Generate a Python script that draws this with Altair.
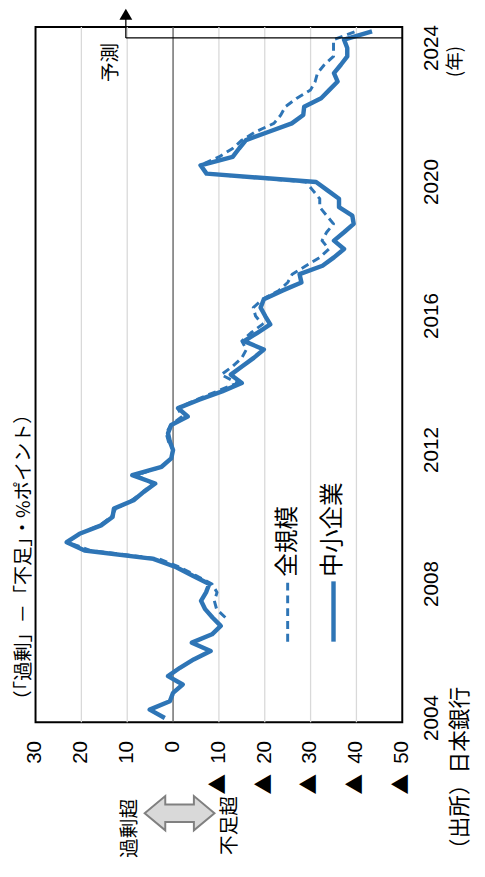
import altair as alt
import pandas as pd

# ---------------- data (quarterly, first point = 2004 Q1) ----------------
start_year = 2004
# 中小企業 (solid)
sme_values = [1.8, 5.1, 0.7, 0.0, -2.1, 1.1, -1.5, -4.5, -8.2, -4.1,
              -8.5, -10.4, -8.6, -7.0, -6.1, -7.2, -7.9, -4.3, -0.7, 4.3,
              19.3, 23.2, 20.4, 15.7, 13.2, 12.9, 8.6, 6.4, 3.9, 8.9,
              2.5, 0.4, 0.0, 0.7, 1.1, 0.4, -3.2, -1.1, -5.7, -10.7,
              -15.0, -12.6, -15.1, -17.6, -19.8, -15.5, -18.4, -21.2, -20.1, -19.1,
              -19.8, -23.7, -28.0, -27.6, -32.6, -35.1, -37.3, -35.1, -37.3, -39.4,
              -39.1, -36.2, -36.2, -33.7, -31.2, -7.3, -6.0, -13.0, -14.4, -15.9,
              -20.9, -25.9, -28.4, -28.6, -32.3, -34.1, -35.9, -35.1, -36.6, -38.0,
              -38.0, -37.3, -43.4]
# 全規模 (dashed), starts 2007 Q1
all_start_index = 12
all_values = [-11.4, -9.5, -9.0, -9.6, -8.5, -5.0, -1.5, 3.0,
              18.0, 23.0, 20.5, 16.0, 13.5, 12.5, 9.0, 6.5, 4.5, 8.0,
              2.5, 0.5, 0.0, 1.0, 1.5, 0.5, -2.0, -1.0, -5.0, -9.5,
              -14.0, -10.5, -13.0, -15.0, -16.0, -15.0, -17.0, -19.5, -18.0, -17.5,
              -19.5, -23.0, -25.0, -26.0, -29.0, -32.0, -34.0, -32.5, -33.5, -35.0,
              -33.5, -32.0, -32.0, -30.5, -29.0, -7.5, -6.0, -10.0, -13.0, -15.0,
              -18.0, -22.0, -23.5, -24.5, -27.0, -30.0, -31.0, -31.5, -33.0, -35.0,
              -35.0, -35.0, -40.0]

series_names = ["全規模", "中小企業"]
year_ticks = [2004, 2008, 2012, 2016, 2020, 2024]
year_labels = ["2004", "2008", "2012", "2016", "2020", "2024"]
value_ticks = [30, 20, 10, 0, -10, -20, -30, -40, -50]
value_labels = ["30", "20", "10", "0", "10", "20", "30", "40", "50"]
neg_ticks = [-10, -20, -30, -40, -50]
grid_values = [20, 10, -10, -20, -30, -40]
zero_value = [0]

title_text = "（「過剰」－「不足」・%ポイント）"
year_unit_text = "(年)"
source_text = "（出所）日本銀行"
forecast_text = "予測"
excess_text = "過剰超"
shortage_text = "不足超"

forecast_t = 2024.3
forecast_v = 10.3

BLUE = "#2E75B6"
W, H = 373, 707

rows = []
for k, v in enumerate(sme_values):
    rows.append({"t": start_year + k / 4, "v": v, "s": series_names[1]})
for k, v in enumerate(all_values):
    rows.append({"t": start_year + (all_start_index + k) / 4, "v": v, "s": series_names[0]})
df = pd.DataFrame(rows)

xs = alt.Scale(domain=[-50, 30], reverse=True, nice=False, zero=False)
ys = alt.Scale(domain=[2003.875, 2024.625], nice=False, zero=False)
X = lambda f: alt.X(f, scale=xs, axis=None)
Y = lambda f: alt.Y(f, scale=ys, axis=None)

# gridlines
grid = alt.Chart(pd.DataFrame({"v": grid_values})).mark_rule(
    color="#d9d9d9", strokeWidth=1.3).encode(x=X("v:Q"))
zero = alt.Chart(pd.DataFrame({"v": zero_value})).mark_rule(
    color="#595959", strokeWidth=1.3).encode(x=X("v:Q"))

# tick labels (value axis below the frame, years to the right)
vlab = alt.Chart(pd.DataFrame({"v": value_ticks, "lab": value_labels})).mark_text(
    angle=270, align="right", baseline="middle", font="Liberation Sans", fontSize=21,
    color="#000", clip=False
).encode(x=X("v:Q"), y=alt.value(H + 19), text="lab:N")
tri = alt.Chart(pd.DataFrame({"v": neg_ticks, "lab": ["▲"] * len(neg_ticks)})).mark_text(
    angle=270, align="center", baseline="middle", font="Noto Sans CJK JP", fontSize=21,
    color="#000", clip=False
).encode(x=X("v:Q"), y=alt.value(H + 63), text="lab:N")
ylab = alt.Chart(pd.DataFrame({"t": year_ticks, "lab": year_labels})).mark_text(
    angle=270, align="center", baseline="top", font="Liberation Sans", fontSize=21,
    color="#000", clip=False
).encode(x=alt.value(W + 19), y=Y("t:Q"), text="lab:N")

dashed = alt.Chart(df[df.s == series_names[0]]).mark_line(
    color=BLUE, strokeWidth=3, strokeDash=[8, 5], strokeJoin="round"
).encode(x=X("v:Q"), y=Y("t:Q"), order="t:Q")
solid = alt.Chart(df[df.s == series_names[1]]).mark_line(
    color=BLUE, strokeWidth=4.5, strokeJoin="round"
).encode(x=X("v:Q"), y=Y("t:Q"), order="t:Q")

# forecast marker
fc = pd.DataFrame({"v": [forecast_v], "v2": [-50], "t": [forecast_t]})
fc_h = alt.Chart(fc).mark_rule(color="#000", strokeWidth=1.3, clip=False).encode(
    x=X("v:Q"), x2="v2:Q", y=Y("t:Q"))
fc_v = alt.Chart(fc).mark_rule(color="#000", strokeWidth=1.3, clip=False).encode(
    x=X("v:Q"), y=Y("t:Q"), y2=alt.value(-10))
fc_arrow = alt.Chart(fc).mark_point(shape="triangle-up", filled=True, color="#000", size=170,
                                     opacity=1, clip=False).encode(x=X("v:Q"), y=alt.value(-13))
fc_text = alt.Chart(pd.DataFrame({"v": [13.5], "t": [2023.57], "lab": [forecast_text]})).mark_text(
    angle=270, align="center", baseline="middle", font="Noto Sans CJK JP", fontSize=20, color="#000"
).encode(x=X("v:Q"), y=Y("t:Q"), text="lab:N")

# legend drawn inside plot
leg = pd.DataFrame({"v": [-25, -35], "t1": [2006.28, 2006.28], "t2": [2008.08, 2008.08],
                    "tt": [2008.22, 2008.22], "s": series_names})
leg_dash = alt.Chart(leg[leg.s == series_names[0]]).mark_rule(
    color=BLUE, strokeWidth=3, strokeDash=[8, 5]).encode(x=X("v:Q"), y=Y("t1:Q"), y2="t2:Q")
leg_solid = alt.Chart(leg[leg.s == series_names[1]]).mark_rule(
    color=BLUE, strokeWidth=4.5).encode(x=X("v:Q"), y=Y("t1:Q"), y2="t2:Q")
leg_text = alt.Chart(leg).mark_text(
    angle=270, align="left", baseline="middle", font="Noto Sans CJK JP", fontSize=24, color="#000"
).encode(x=X("v:Q"), y=Y("tt:Q"), text="s:N")

one = pd.DataFrame({"a": [0]})

def label(txt, px, py, size, align="center"):
    return alt.Chart(one).mark_text(
        angle=270, align=align, baseline="middle", font="Noto Sans CJK JP",
        fontSize=size, color="#000", text=txt
    ).encode(x=alt.value(px), y=alt.value(py))

title_l = label(title_text, -12, 694, 19.5, "left")
year_l = label(year_unit_text, 427, 35, 19)
source_l = label(source_text, 432, 847, 22, "left")
excess_l = label(excess_text, 96, 815, 20)
short_l = label(shortage_text, 198, 812, 20)

arrow_path = ("M-1,0 L-0.41,-0.49 L-0.41,-0.25 L0.41,-0.25 L0.41,-0.49 L1,0 "
              "L0.41,0.49 L0.41,0.25 L-0.41,0.25 L-0.41,0.49 Z")
arrow = alt.Chart(one).mark_point(
    shape=arrow_path, filled=True, fill="#d9d9d9", stroke="#808080", strokeWidth=2,
    size=71 * 71, opacity=1, fillOpacity=1
).encode(x=alt.value(146.5), y=alt.value(799.5))

chart = alt.layer(
    grid, zero, vlab, tri, ylab, dashed, solid, fc_h, fc_v, fc_arrow, fc_text,
    leg_dash, leg_solid, leg_text,
    title_l, year_l, source_l, excess_l, short_l, arrow
).properties(
    width=W, height=H,
    padding={"left": 28, "top": 12, "right": 76, "bottom": 150},
    autosize=alt.AutoSizeParams(type="none"),
).configure(background="white").configure_view(stroke="#000", strokeWidth=2)

chart.save("out.html", embed_options={"renderer": "svg", "actions": False})
